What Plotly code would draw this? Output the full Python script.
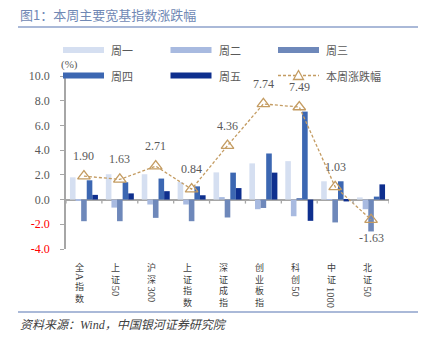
import plotly.graph_objects as go

# 宽基指数每日涨跌幅 (%)
categories = ["全A指数", "上证50", "沪深300", "上证指数", "深证成指",
              "创业板指", "科创50", "中证1000", "北证50"]
mon = [1.80, 2.05, 2.05, 1.42, 2.20, 2.93, 3.11, 1.48, 0.18]
tue = [-0.05, -0.65, -0.40, -0.40, 0.20, -0.78, -1.35, 0.02, -0.78]
wed = [-1.75, -1.75, -1.48, -1.75, -1.45, -0.68, 0.10, -1.85, -2.58]
thu = [1.56, 1.40, 1.70, 1.07, 2.18, 3.73, 7.12, 1.48, 0.24]
fri = [0.38, 0.50, 0.68, 0.35, 0.93, 2.18, -1.72, -0.15, 1.23]
week = [1.90, 1.63, 2.71, 0.84, 4.36, 7.74, 7.49, 1.03, -1.63]

series_names = ["周一", "周二", "周三", "周四", "周五"]
series_vals = [mon, tue, wed, thu, fri]
series_colors = ["#D5DFF1", "#A8BAE0", "#6E88BA", "#3C67B2", "#0E2F8E"]
line_name = "本周涨跌幅"
line_color = "#C49C62"

y_ticks = [10.0, 8.0, 6.0, 4.0, 2.0, 0.0, -2.0, -4.0]

SERIF = "Liberation Serif, Noto Sans CJK SC"
CJK = "Noto Sans CJK SC, sans-serif"

W, H = 425, 338
L, R, T, B = 66, 36, 76, 89
pw, ph = W - L - R, H - T - B


def px_x(px):
    return (px - L) / pw


def px_y(py):
    return (H - B - py) / ph


x = list(range(len(categories)))

fig = go.Figure()
for name, vals, col in zip(series_names, series_vals, series_colors):
    fig.add_trace(go.Bar(x=x, y=vals, name=name,
                         marker=dict(color=col, line=dict(width=0))))

fig.add_trace(go.Scatter(
    x=x, y=week, name=line_name, mode="lines+markers",
    line=dict(color=line_color, width=1.3, dash="3px,2px"),
    marker=dict(symbol="triangle-up-open", size=11, color=line_color,
                line=dict(width=1.3)),
))

annotations = []
shapes = []

# value labels for the weekly change line
for xi, v in zip(x, week):
    annotations.append(dict(
        x=xi, y=v, xref="x", yref="y", text=f"{v:.2f}", showarrow=False,
        yshift=20 if v >= 0 else -18,
        font=dict(family=SERIF, size=12, color="#595959"),
    ))


# vertical category labels: CJK characters stacked upright, ASCII runs rotated
def split_runs(s):
    runs, buf, kind = [], "", None
    for ch in s:
        k = ord(ch) < 128
        if kind is not None and k != kind:
            runs.append((buf, kind))
            buf = ""
        buf += ch
        kind = k
    if buf:
        runs.append((buf, kind))
    return runs


CJK_SIZE = 9
LINE_H = CJK_SIZE * 1.3
ASCII_W = 5.6
for xi, label in zip(x, categories):
    cur = 12.0
    for run, is_ascii in split_runs(label):
        if is_ascii:
            h = ASCII_W * len(run) + 1
            text = run
        else:
            h = LINE_H * len(run) + 1
            text = "<br>".join(run)
        annotations.append(dict(
            x=xi, y=0, xref="x", yref="paper", text=text, showarrow=False,
            textangle=90 if is_ascii else 0, borderpad=0,
            xanchor="center", yanchor="middle",
            xshift=-4, yshift=-(cur + h / 2),
            font=dict(family=SERIF if is_ascii else CJK,
                      size=10.5 if is_ascii else CJK_SIZE, color="#404040"),
        ))
        cur += h

# unit label
annotations.append(dict(
    x=0, y=1, xref="paper", yref="paper", text="(%)", showarrow=False,
    xanchor="center", yanchor="bottom", xshift=3, yshift=3,
    font=dict(family=SERIF, size=11, color="#595959"),
))

# title and source
annotations.append(dict(
    x=px_x(18), y=px_y(14), xref="paper", yref="paper",
    text="图1：本周主要宽基指数涨跌幅",
    showarrow=False, xanchor="left", yanchor="middle",
    font=dict(family=CJK, size=13, color="#7088B4"),
))
annotations.append(dict(
    x=px_x(18), y=px_y(325), xref="paper", yref="paper",
    text="<i>资料来源：Wind，中国银河证券研究院</i>",
    showarrow=False, xanchor="left", yanchor="middle",
    font=dict(family=SERIF, size=12, color="#404040"),
))

# legend: three columns, two rows
legend_cols = [63, 170.5, 278]
legend_rows = [50, 75.5]
SW = 41
entries = [(n, c) for n, c in zip(series_names, series_colors)] + [(line_name, None)]
for i, (name, col) in enumerate(entries):
    lx = legend_cols[i % 3]
    ly = legend_rows[i // 3]
    if col is not None:
        shapes.append(dict(
            type="rect", xref="paper", yref="paper",
            x0=px_x(lx), x1=px_x(lx + SW), y0=px_y(ly - 3), y1=px_y(ly + 3),
            fillcolor=col, line=dict(width=0),
        ))
    else:
        shapes.append(dict(
            type="line", xref="paper", yref="paper",
            x0=px_x(lx), x1=px_x(lx + SW), y0=px_y(ly), y1=px_y(ly),
            line=dict(color=line_color, width=1.3, dash="3px,2px"),
        ))
        shapes.append(dict(
            type="path", xref="paper", yref="paper",
            xsizemode="pixel", ysizemode="pixel",
            xanchor=px_x(lx + SW / 2), yanchor=px_y(ly),
            path="M-5,-4L5,-4L0,5Z",
            fillcolor="white", line=dict(color=line_color, width=1.3),
        ))
    annotations.append(dict(
        x=px_x(lx + SW + 5), y=px_y(ly), xref="paper", yref="paper",
        text=name, showarrow=False, xanchor="left", yanchor="middle",
        font=dict(family=CJK, size=11, color="#595959"),
    ))

# category boundary ticks on the zero line
for k in range(len(categories) + 1):
    shapes.append(dict(
        type="line", xref="x", yref="y", x0=k - 0.5, x1=k - 0.5,
        ysizemode="pixel", yanchor=0, y0=0, y1=-4,
        line=dict(color="#A6A6A6", width=1.3),
    ))

# rules under the title and above the source
for py in (27, 312):
    shapes.append(dict(
        type="line", xref="paper", yref="paper",
        x0=px_x(18), x1=px_x(418), y0=px_y(py), y1=px_y(py),
        line=dict(color="#8EA2CB", width=1.5),
    ))

tick_text = [
    (f'<span style="color:#FF0000">{v:.1f}</span>' if v < 0 else f"{v:.1f}")
    for v in y_ticks
]

fig.update_layout(
    width=W, height=H,
    margin=dict(l=L, r=R, t=T, b=B, pad=0),
    paper_bgcolor="white", plot_bgcolor="white",
    barmode="group", bargap=0.22, bargroupgap=0,
    showlegend=False,
    xaxis=dict(
        range=[-0.5, len(categories) - 0.5], showgrid=False, showline=False,
        zeroline=False, showticklabels=False, ticks="",
    ),
    yaxis=dict(
        range=[-4, 10], tickvals=y_ticks, ticktext=tick_text,
        showgrid=False, showline=True, linecolor="#A6A6A6", linewidth=1.5,
        ticks="outside", ticklen=4, tickcolor="#A6A6A6", tickwidth=1.3,
        ticklabelstandoff=8,
        zeroline=True, zerolinecolor="#A6A6A6", zerolinewidth=1.5,
        tickfont=dict(family=SERIF, size=12, color="#595959"),
    ),
    annotations=annotations,
    shapes=shapes,
)

fig.write_html("out.html")
